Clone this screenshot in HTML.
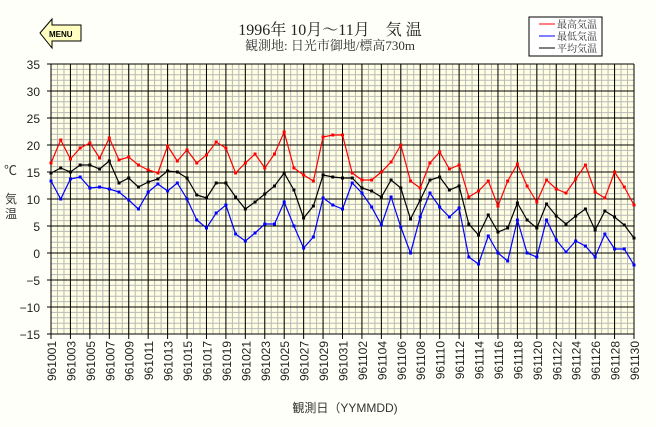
<!DOCTYPE html>
<html><head><meta charset="utf-8"><style>
html,body{margin:0;padding:0;background:#fffffa;}
svg{display:block;}
</style></head><body>
<svg id="s" width="656" height="427" xmlns="http://www.w3.org/2000/svg" font-family="'Liberation Sans','Noto Sans CJK JP',sans-serif">
<rect width="656" height="427" fill="#fffffa"/>
<polygon points="40,33 52,19 52,25 81,25 81,41 52,41 52,48" fill="#ffffc0" stroke="#000" stroke-width="1"/>
<text x="49" y="37" font-size="8" font-weight="bold">MENU</text>
<text x="330" y="35" font-size="16" text-anchor="middle" fill="#222" font-family="'Liberation Serif','Noto Serif CJK SC',serif">1996年 10月〜11月　気 温</text>
<text x="330" y="50" font-size="13" text-anchor="middle" fill="#333" font-family="'Liberation Serif','Noto Serif CJK SC',serif">観測地: 日光市御地/標高730m</text>
<rect x="529" y="17" width="73" height="39" fill="#fff" stroke="#000"/>
<line x1="539" y1="24" x2="555" y2="24" stroke="red"/><line x1="539" y1="36" x2="555" y2="36" stroke="blue"/><line x1="539" y1="48" x2="555" y2="48" stroke="#000"/>
<g font-size="10" fill="#333" font-family="'Liberation Serif','Noto Serif CJK SC',serif"><text x="557" y="28">最高気温</text><text x="557" y="40">最低気温</text><text x="557" y="52">平均気温</text></g>
<rect x="51" y="64" width="583" height="270" fill="#ffffe4"/>
<g id="grid"></g>
<g id="data"></g>
<g font-size="13" fill="#333"><text x="4" y="175">℃</text><text x="5" y="203" font-size="12">気</text><text x="5" y="218" font-size="12">温</text></g>
<text x="345" y="412" font-size="12" text-anchor="middle" fill="#333">観測日（YYMMDD)</text>
</svg>
<script>
var NS="http://www.w3.org/2000/svg",s=document.getElementById('s'),g=document.getElementById('grid'),d=document.getElementById('data');
function el(p,t,a,txt){var e=document.createElementNS(NS,t);for(var k in a)e.setAttribute(k,a[k]);if(txt)e.textContent=txt;p.appendChild(e);return e;}
var X0=51,X1=634,Y0=64,Y1=334,dx=(X1-X0)/60;
for(var v=-15;v<=35;v++){var y=334-(v+15)*5.4;if(v%5)el(g,'line',{x1:X0,x2:X1,y1:y,y2:y,stroke:'#b8b8b8'});}
for(var i=0;i<=90;i++){var x=X0+i*(X1-X0)/90;el(g,'line',{x1:x,x2:x,y1:Y0,y2:Y1,stroke:'#b8b8b8'});}
for(var v=-15;v<=35;v+=5){var y=334-(v+15)*5.4;el(g,'line',{x1:X0-4,x2:X1,y1:y,y2:y,stroke:'#000'});el(g,'text',{x:40,y:y+5,'font-size':12,'text-anchor':'end',fill:'#222'},String(v).replace('-','−'));}
for(var i=0;i<=60;i+=2){var x=X0+i*dx;el(g,'line',{x1:x,x2:x,y1:Y0,y2:Y1+5,stroke:'#000'});var day=i<31?'10'+('0'+(i+1)).slice(-2):'11'+('0'+(i-30)).slice(-2);el(g,'text',{x:0,y:0,'font-size':12,'text-anchor':'end',fill:'#222',transform:'translate('+(x+5)+',341) rotate(-90)'},'96'+day);}
var red=[163,140,159,148,143,158,138,160,157,165,170,173,146,161,150,163,155,142,148,173,163,154,168,154,132,168,175,181,137,135,135,173,180,180,172,162,145,181,188,163,152,169,165,197,191,181,206,181,164,186,202,180,189,193,179,165,192,198,172,187,205];
var blk=[173,168,172,165,165,169,161,183,178,187,182,179,171,172,178,195,198,183,183,197,209,202,194,186,173,190,218,206,175,177,178,178,188,191,197,180,188,219,200,180,177,190,186,224,235,215,232,228,203,220,228,204,216,224,216,209,230,211,217,225,238];
var blu=[181,199,179,177,188,187,189,192,200,209,192,184,191,183,199,220,228,213,205,234,241,233,224,224,202,226,248,237,198,205,209,183,193,207,225,197,227,253,217,193,207,217,208,257,264,236,253,261,220,253,257,220,240,252,241,246,257,234,249,249,265];
[[red,'#f00'],[blu,'#00f'],[blk,'#000']].forEach(function(p){var pts=p[0].map(function(y,i){return (X0+i*dx).toFixed(1)+','+y;}).join(' ');el(d,'polyline',{points:pts,fill:'none',stroke:p[1],'stroke-width':1.2});p[0].forEach(function(y,i){el(d,'rect',{x:X0+i*dx-1.5,y:y-1.5,width:3,height:3,fill:p[1]});});});
</script>
</body></html>
